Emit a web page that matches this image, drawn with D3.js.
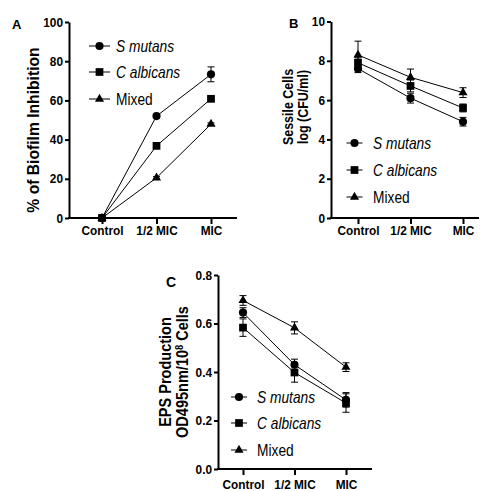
<!DOCTYPE html>
<html>
<head>
<meta charset="utf-8">
<script src="https://cdn.jsdelivr.net/npm/d3@7"></script>
<style>
  html, body { margin: 0; padding: 0; background: #fff; }
  svg { display: block; font-family: "Liberation Sans", Arial, sans-serif; }
</style>
</head>
<body>
<div id="chart"></div>
<script>
// data
var categories = ["Control", "1/2 MIC", "MIC"];
var seriesNames = ["S mutans", "C albicans", "Mixed"];
var seriesItalic = [true, true, false];

// A - % of biofilm inhibition
var inhibSmutans = [0, 52, 73.3],   inhibSmutansErr = [0, 0.8, 3.8];
var inhibCalb    = [0, 36.8, 60.8], inhibCalbErr    = [0, 1, 1];
var inhibMixed   = [0, 20.5, 47.9], inhibMixedErr   = [0, 0.6, 0.6];

// B - sessile cells log(CFU/ml)
var sessSmutans = [7.6, 6.1, 4.9],   sessSmutansErr = [0.2, 0.25, 0.22];
var sessCalb    = [7.9, 6.72, 5.6],  sessCalbErr    = [0.25, 0.3, 0.2];
var sessMixed   = [8.3, 7.16, 6.38], sessMixedErr   = [0.7, 0.42, 0.25];

// C - EPS production
var epsSmutans = [0.645, 0.43, 0.285], epsSmutansErr = [0.02, 0.023, 0.03];
var epsCalb    = [0.583, 0.398, 0.272], epsCalbErr   = [0.036, 0.04, 0.038];
var epsMixed   = [0.695, 0.582, 0.42], epsMixedErr   = [0.02, 0.025, 0.018];

var yTicksA = [0, 20, 40, 60, 80, 100];
var yTicksB = [0, 2, 4, 6, 8, 10];
var yTicksC = [0, 0.2, 0.4, 0.6, 0.8];

// layout constants - the figure's type is a little condensed, so text gets squeezed with scaleX
var W = 480, H = 491;
var symbols = [d3.symbolCircle, d3.symbolSquare, d3.symbolTriangle];
var symSizes = [52, 60, 36];
var tickSqueeze = 0.91, legendFont = 16, legendSqueeze = 0.86;

var svg = d3.select("#chart").append("svg")
    .attr("width", W)
    .attr("height", H);

function drawPanel(p) {
    var g = svg.append("g");
    var x = d3.scalePoint().domain(categories).range([p.cx0, p.cx1]);
    var y = d3.scaleLinear().domain(p.yDomain).range([p.yBot, p.yTop]);

    // y axis
    var ya = g.append("g")
        .attr("transform", "translate(" + p.x0 + ",0)")
        .call(d3.axisLeft(y).tickValues(p.yTicks).tickSize(4).tickSizeOuter(0)
              .tickPadding(2).tickFormat(p.yFormat));
    ya.select(".domain").attr("stroke-width", 2);
    ya.selectAll(".tick line").attr("stroke-width", 2);
    ya.selectAll("text").attr("font-size", p.tickFont).attr("font-weight", "bold")
        .attr("font-family", "Liberation Sans, Arial, sans-serif").attr("fill", "#000")
        .attr("x", -6 / tickSqueeze)
        .attr("transform", "scale(" + tickSqueeze + ",1)");

    // x axis
    var xa = g.append("g")
        .attr("transform", "translate(0," + p.yBot + ")")
        .call(d3.axisBottom(x).tickSize(6).tickSizeOuter(0).tickPadding(p.xPad));
    xa.select(".domain").remove();
    xa.selectAll(".tick line").attr("stroke-width", 2);
    xa.selectAll("text").attr("font-size", p.tickFont).attr("font-weight", "bold")
        .attr("font-family", "Liberation Sans, Arial, sans-serif").attr("fill", "#000")
        .attr("transform", "scale(" + tickSqueeze + ",1)");
    g.append("line")
        .attr("x1", p.x0 - 1).attr("x2", p.xEnd)
        .attr("y1", p.yBot).attr("y2", p.yBot)
        .attr("stroke", "#000").attr("stroke-width", 2);

    // series
    p.series.forEach(function(s, si) {
        var pts = s.vals.map(function(v, i) { return {c: categories[i], v: v, e: s.err[i]}; });
        g.append("path")
            .datum(pts)
            .attr("fill", "none").attr("stroke", "#000").attr("stroke-width", 1)
            .attr("d", d3.line().x(function(d) { return x(d.c); }).y(function(d) { return y(d.v); }));
        pts.forEach(function(d) {
            if (d.e <= 0) return;
            var cx = x(d.c), y1 = y(d.v + d.e), y2 = y(d.v - d.e);
            g.append("line").attr("x1", cx).attr("x2", cx).attr("y1", y1).attr("y2", y2)
                .attr("stroke", "#000").attr("stroke-width", 1);
            [y1, y2].forEach(function(yy) {
                g.append("line").attr("x1", cx - 3.5).attr("x2", cx + 3.5).attr("y1", yy).attr("y2", yy)
                    .attr("stroke", "#000").attr("stroke-width", 1);
            });
        });
        g.selectAll(null).data(pts).enter().append("path")
            .attr("transform", function(d) { return "translate(" + x(d.c) + "," + y(d.v) + ")"; })
            .attr("d", d3.symbol().type(symbols[si]).size(symSizes[si]))
            .attr("fill", "#000");
    });

    // legend
    seriesNames.forEach(function(name, i) {
        var ly = p.legY[i];
        g.append("line").attr("x1", p.legX - p.legHalf).attr("x2", p.legX + p.legHalf)
            .attr("y1", ly).attr("y2", ly).attr("stroke", "#000").attr("stroke-width", 1);
        g.append("path").attr("transform", "translate(" + p.legX + "," + ly + ")")
            .attr("d", d3.symbol().type(symbols[i]).size(symSizes[i])).attr("fill", "#000");
        g.append("text")
            .attr("transform", "translate(" + p.legTextX + "," + ly + ") scale(" + legendSqueeze + ",1)")
            .attr("dy", "0.36em")
            .attr("font-size", legendFont).attr("font-style", seriesItalic[i] ? "italic" : "normal")
            .text(name);
    });

    // y title (rotated)
    p.titleLines.forEach(function(line, i) {
        var t = g.append("text")
            .attr("transform", "translate(" + p.titleX[i] + "," + p.titleY + ") rotate(-90) scale(" + p.titleSqueeze + ",1)")
            .attr("text-anchor", "middle").attr("dy", "0.36em")
            .attr("font-size", p.titleFont).attr("font-weight", "bold");
        line.forEach(function(part) {
            var ts = t.append("tspan").text(part.t);
            if (part.sup) ts.attr("font-size", p.titleFont * 0.65).attr("baseline-shift", "super");
        });
    });

    // panel letter
    g.append("text").attr("x", p.letterX).attr("y", p.letterY)
        .attr("font-size", p.letterFont).attr("font-weight", "bold").text(p.letter);
}

drawPanel({
    x0: 69, xEnd: 237, cx0: 102, cx1: 211, yTop: 22, yBot: 218,
    yDomain: [0, 100], yTicks: yTicksA, yFormat: d3.format("d"), tickFont: 13, xPad: 1.5,
    series: [{vals: inhibSmutans, err: inhibSmutansErr},
             {vals: inhibCalb, err: inhibCalbErr},
             {vals: inhibMixed, err: inhibMixedErr}],
    legX: 99.5, legHalf: 10.5, legY: [46, 72, 99], legTextX: 116,
    titleLines: [[{t: "% of Biofilm Inhibition"}]], titleX: [33], titleY: 130,
    titleFont: 16.5, titleSqueeze: 0.95,
    letter: "A", letterX: 12, letterY: 29, letterFont: 13
});

drawPanel({
    x0: 331, xEnd: 479, cx0: 358, cx1: 463, yTop: 21.5, yBot: 218,
    yDomain: [0, 10], yTicks: yTicksB, yFormat: d3.format("d"), tickFont: 13, xPad: 1.5,
    series: [{vals: sessSmutans, err: sessSmutansErr},
             {vals: sessCalb, err: sessCalbErr},
             {vals: sessMixed, err: sessMixedErr}],
    legX: 354.5, legHalf: 8, legY: [143, 170, 197], legTextX: 373,
    titleLines: [[{t: "Sessile Cells"}], [{t: "log (CFU/ml)"}]], titleX: [288, 303], titleY: 107,
    titleFont: 14.5, titleSqueeze: 0.86,
    letter: "B", letterX: 289, letterY: 28, letterFont: 13
});

drawPanel({
    x0: 218, xEnd: 372, cx0: 243, cx1: 346, yTop: 275, yBot: 469,
    yDomain: [0, 0.8], yTicks: yTicksC, yFormat: d3.format(".1f"), tickFont: 13, xPad: 4.5,
    series: [{vals: epsSmutans, err: epsSmutansErr},
             {vals: epsCalb, err: epsCalbErr},
             {vals: epsMixed, err: epsMixedErr}],
    legX: 239, legHalf: 8, legY: [397, 423, 450], legTextX: 257,
    titleLines: [[{t: "EPS Production"}], [{t: "OD495nm/10"}, {t: "8", sup: true}, {t: " Cells"}]],
    titleX: [165, 182], titleY: 372, titleFont: 16.5, titleSqueeze: 0.88,
    letter: "C", letterX: 166, letterY: 287, letterFont: 14
});
</script>
</body>
</html>
